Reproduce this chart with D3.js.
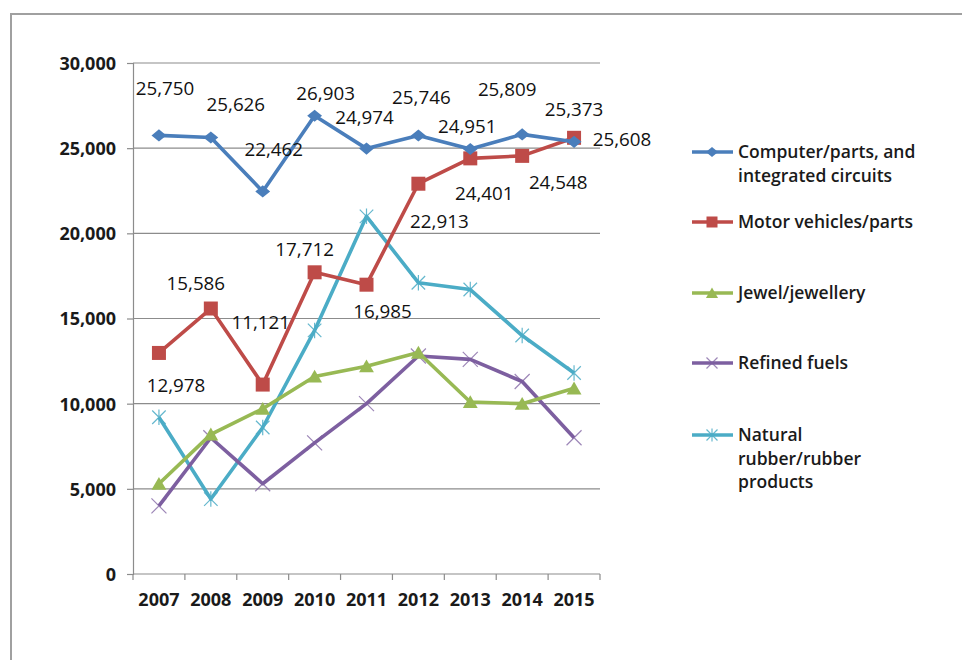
<!DOCTYPE html>
<html>
<head>
<meta charset="utf-8">
<script src="https://cdn.jsdelivr.net/npm/d3@7/dist/d3.min.js"></script>
<style>
  html, body { margin: 0; padding: 0; background: #ffffff; }
  svg { display: block; }
  .tick-text { font-family: "Open Sans", "Liberation Sans", sans-serif; font-weight: 700; font-size: 18px; fill: #1a1a1a; }
  .data-label { font-family: "Open Sans", "Liberation Sans", sans-serif; font-size: 18.8px; fill: #111; }
  .legend-text { font-family: "Open Sans", "Liberation Sans", sans-serif; font-weight: 600; font-size: 17.5px; fill: #1a1a1a; }
</style>
</head>
<body>
<svg id="chart" width="962" height="660"></svg>
<script>
// Export values by product group, 2007-2015
const years = ["2007", "2008", "2009", "2010", "2011", "2012", "2013", "2014", "2015"];
const computerParts = [25750, 25626, 22462, 26903, 24974, 25746, 24951, 25809, 25373];
const motorVehicles = [12978, 15586, 11121, 17712, 16985, 22913, 24401, 24548, 25608];
const jewellery = [5300, 8200, 9700, 11600, 12200, 13000, 10100, 10000, 10900];
const refinedFuels = [4000, 8000, 5300, 7700, 10000, 12800, 12600, 11300, 8000];
const naturalRubber = [9200, 4400, 8600, 14300, 21000, 17100, 16700, 14000, 11800];
const yTicks = [0, 5000, 10000, 15000, 20000, 25000, 30000];

const seriesNames = [
  ["Computer/parts, and", "integrated circuits"],
  ["Motor vehicles/parts"],
  ["Jewel/jewellery"],
  ["Refined fuels"],
  ["Natural", "rubber/rubber", "products"]
];

// Label placement offsets (px from the point) for the labelled series
const computerLabelNudge = [[6, -47], [25, -33], [11, -42], [11, -23], [-2, -31], [3, -38], [-3, -23], [-15, -45], [0, -33]];
const motorLabelNudge = [[17, 32], [-15, -25], [-2, -62], [-10, -23], [16, 27], [21, 38], [14, 35], [36, 26], [48, 1]];

const series = [
  { name: seriesNames[0], values: computerParts, color: "#4a7ebb", marker: "diamond", labels: computerLabelNudge },
  { name: seriesNames[1], values: motorVehicles, color: "#be4b48", marker: "square", labels: motorLabelNudge },
  { name: seriesNames[2], values: jewellery, color: "#98b954", marker: "triangle" },
  { name: seriesNames[3], values: refinedFuels, color: "#7d5fa0", marker: "cross" },
  { name: seriesNames[4], values: naturalRubber, color: "#4bacc6", marker: "star" }
];

const svg = d3.select("#chart");

// Outer chart frame (top and left edges visible)
svg.append("path")
  .attr("d", "M11,660 L11,14 L962,14")
  .attr("fill", "none")
  .attr("stroke", "#a0a0a0")
  .attr("stroke-width", 2);

const plot = { left: 133, right: 600, top: 63, bottom: 574 };

const x = d3.scaleBand().domain(years).range([plot.left, plot.right]).paddingInner(0).paddingOuter(0);
const y = d3.scaleLinear().domain([0, 30000]).range([plot.bottom, plot.top]);
const cx = yr => x(yr) + x.bandwidth() / 2;

// Horizontal gridlines
svg.append("g")
  .selectAll("line")
  .data(yTicks.filter(t => t > 0))
  .join("line")
  .attr("x1", plot.left).attr("x2", plot.right)
  .attr("y1", d => y(d)).attr("y2", d => y(d))
  .attr("stroke", "#8c8c8c").attr("stroke-width", 1.2);

// Y axis
const yAxis = svg.append("g")
  .attr("transform", `translate(${plot.left},0)`)
  .call(d3.axisLeft(y).tickValues(yTicks).tickSize(6).tickPadding(11).tickFormat(d3.format(",")));
yAxis.select(".domain").attr("stroke", "#8c8c8c").attr("stroke-width", 1.2);
yAxis.selectAll(".tick line").attr("stroke", "#8c8c8c").attr("stroke-width", 1.2);
yAxis.selectAll(".tick text").attr("class", "tick-text").attr("font-family", null).attr("font-size", null).attr("dy", "0.36em");

// X axis: tick marks at category boundaries, labels centred in each band
const xAxis = svg.append("g").attr("transform", `translate(0,${plot.bottom})`);
xAxis.append("line")
  .attr("x1", plot.left).attr("x2", plot.right)
  .attr("stroke", "#8c8c8c").attr("stroke-width", 1.2);
xAxis.selectAll("line.bound")
  .data(years.concat(["end"]))
  .join("line")
  .attr("class", "bound")
  .attr("x1", (d, i) => plot.left + i * x.bandwidth())
  .attr("x2", (d, i) => plot.left + i * x.bandwidth())
  .attr("y1", 0).attr("y2", 6)
  .attr("stroke", "#8c8c8c").attr("stroke-width", 1.2);
xAxis.selectAll("text")
  .data(years)
  .join("text")
  .attr("class", "tick-text")
  .attr("x", d => cx(d))
  .attr("y", 26)
  .attr("dy", "0.36em")
  .attr("text-anchor", "middle")
  .text(d => d);

// Marker drawing
function drawMarker(g, type, color, size) {
  const s = size;
  if (type === "diamond") {
    g.append("path").attr("d", `M${-s * 0.55},0 L0,${-s * 0.45} L${s * 0.55},0 L0,${s * 0.45} Z`).attr("fill", color);
  } else if (type === "square") {
    g.append("rect").attr("x", -s * 0.5).attr("y", -s * 0.5).attr("width", s).attr("height", s).attr("fill", color);
  } else if (type === "triangle") {
    g.append("path").attr("d", `M0,${-s * 0.5} L${s * 0.55},${s * 0.45} L${-s * 0.55},${s * 0.45} Z`).attr("fill", color);
  } else if (type === "cross") {
    const h = s * 0.5;
    g.append("path").attr("d", `M${-h},${-h} L${h},${h} M${-h},${h} L${h},${-h}`)
      .attr("stroke", color).attr("stroke-width", 1.2).attr("opacity", 0.75);
  } else if (type === "star") {
    const h = s * 0.5;
    g.append("path").attr("d", `M${-h},${-h} L${h},${h} M${-h},${h} L${h},${-h} M0,${-h - 1} L0,${h + 1}`)
      .attr("stroke", color).attr("stroke-width", 1.2).attr("opacity", 0.85);
  }
}

const line = d3.line().x((d, i) => cx(years[i])).y(d => y(d));

// Series lines and markers (draw in reverse so the first series sits on top)
const drawOrder = [4, 3, 2, 1, 0];
drawOrder.forEach(si => {
  const s = series[si];
  const g = svg.append("g");
  g.append("path")
    .datum(s.values)
    .attr("d", line)
    .attr("fill", "none")
    .attr("stroke", s.color)
    .attr("stroke-width", 3.6)
    .attr("stroke-linejoin", "round");
  s.values.forEach((v, i) => {
    const mg = g.append("g").attr("transform", `translate(${cx(years[i])},${y(v)})`);
    const size = s.marker === "square" ? 14 : (s.marker === "cross" ? 15 : 13.5);
    drawMarker(mg, s.marker, s.color, size);
  });
});

// Data labels
series.forEach(s => {
  if (!s.labels) return;
  svg.append("g")
    .selectAll("text")
    .data(s.values)
    .join("text")
    .attr("class", "data-label")
    .attr("x", (d, i) => cx(years[i]) + s.labels[i][0])
    .attr("y", (d, i) => y(d) + s.labels[i][1])
    .attr("dy", "0.36em")
    .attr("text-anchor", "middle")
    .text(d => d3.format(",")(d));
});

// Legend
const legendY = [152, 222, 293, 363, 435];
const legend = svg.append("g");
series.forEach((s, i) => {
  const g = legend.append("g").attr("transform", `translate(0,${legendY[i]})`);
  g.append("line").attr("x1", 692).attr("x2", 733).attr("y1", 0).attr("y2", 0)
    .attr("stroke", s.color).attr("stroke-width", 3.6);
  const mg = g.append("g").attr("transform", "translate(712,0)");
  drawMarker(mg, s.marker, s.color, 11);
  const t = g.append("text").attr("class", "legend-text").attr("x", 738).attr("y", 0);
  s.name.forEach((ln, j) => {
    t.append("tspan").attr("x", 738).attr("y", j * 23.5).attr("dy", "0.36em").text(ln);
  });
});
</script>
</body>
</html>
